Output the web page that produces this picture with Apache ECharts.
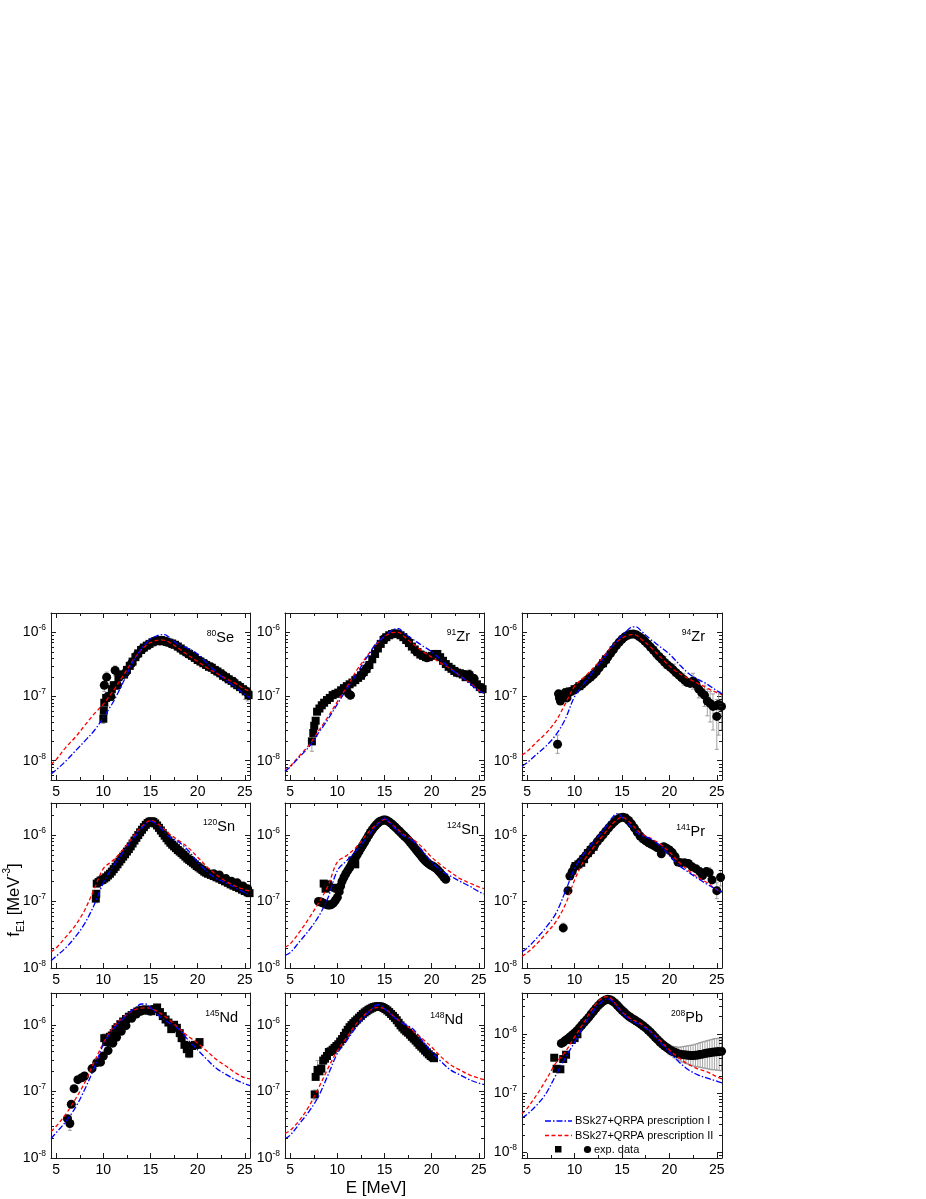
<!DOCTYPE html>
<html><head><meta charset="utf-8">
<script src="https://cdn.jsdelivr.net/npm/echarts@6/dist/echarts.min.js"></script>
<style>html,body{margin:0;padding:0;background:#fff}#c{width:926px;height:1199px}</style>
</head><body><div id="c"></div>
<script>
// ---------- DATA ----------
const CURVE_E = [4.45,5,6,7,8,9,10,11,12,13,13.5,14,14.5,15,15.5,16,16.5,17,18,19,20,21,22,23,24,25,25.55];

const SE80_I  = [6.2e-9,7.2e-9,9.8e-9,1.4e-8,2.0e-8,2.9e-8,4.7e-8,8.0e-8,1.55e-7,3.2e-7,4.3e-7,5.5e-7,6.7e-7,7.9e-7,8.6e-7,9.1e-7,9.2e-7,8.3e-7,6.4e-7,5.6e-7,4.6e-7,3.3e-7,2.4e-7,1.8e-7,1.4e-7,1.08e-7,9.7e-8];
const SE80_II = [8.7e-9,1.04e-8,1.6e-8,2.3e-8,3.5e-8,5.3e-8,7.6e-8,1.2e-7,2.0e-7,3.4e-7,4.3e-7,5.3e-7,6.2e-7,6.9e-7,7.4e-7,7.6e-7,7.5e-7,7.0e-7,5.6e-7,4.4e-7,3.5e-7,2.8e-7,2.3e-7,1.9e-7,1.6e-7,1.3e-7,1.2e-7];
const ZR91_I  = [6.8e-9,8.0e-9,1.15e-8,1.65e-8,2.7e-8,4.4e-8,7.6e-8,1.3e-7,2.2e-7,3.8e-7,4.9e-7,6.4e-7,7.5e-7,8.8e-7,1.0e-6,1.12e-6,1.14e-6,9.8e-7,7.8e-7,6.2e-7,5.0e-7,3.7e-7,2.7e-7,2.1e-7,1.6e-7,1.23e-7,1.13e-7];
const ZR91_II = [7.0e-9,8.2e-9,1.2e-8,1.75e-8,2.9e-8,4.8e-8,8.3e-8,1.4e-7,2.5e-7,4.0e-7,5.0e-7,6.3e-7,7.4e-7,8.6e-7,9.5e-7,1.0e-6,1.0e-6,8.8e-7,6.6e-7,5.1e-7,4.1e-7,3.3e-7,2.7e-7,2.1e-7,1.65e-7,1.25e-7,1.13e-7];
const ZR94_I  = [8.2e-9,9.3e-9,1.26e-8,1.7e-8,2.5e-8,4.4e-8,1.0e-7,1.6e-7,2.5e-7,3.8e-7,4.8e-7,6.2e-7,7.5e-7,8.9e-7,1.05e-6,1.2e-6,1.22e-6,1.06e-6,7.8e-7,6.0e-7,4.6e-7,3.2e-7,2.3e-7,1.85e-7,1.55e-7,1.23e-7,1.1e-7];
const ZR94_II = [1.23e-8,1.4e-8,1.95e-8,2.7e-8,4.1e-8,7.6e-8,1.45e-7,2.0e-7,2.8e-7,4.1e-7,5.1e-7,6.2e-7,7.2e-7,8.1e-7,8.8e-7,9.2e-7,9.0e-7,7.9e-7,5.9e-7,4.2e-7,3.0e-7,2.3e-7,1.9e-7,1.6e-7,1.35e-7,1.15e-7,1.07e-7];
const SN120_I = [1.28e-8,1.5e-8,2.0e-8,2.9e-8,4.6e-8,8.7e-8,1.9e-7,3.3e-7,5.2e-7,8.2e-7,1.0e-6,1.23e-6,1.45e-6,1.6e-6,1.5e-6,1.3e-6,1.1e-6,9.3e-7,7.8e-7,5.8e-7,3.9e-7,2.8e-7,2.2e-7,1.9e-7,1.6e-7,1.35e-7,1.26e-7];
const SN120_II= [1.75e-8,2.0e-8,2.9e-8,4.3e-8,7.3e-8,1.5e-7,3.1e-7,4.1e-7,5.8e-7,8.7e-7,1.08e-6,1.3e-6,1.5e-6,1.64e-6,1.55e-6,1.38e-6,1.2e-6,1.03e-6,8.2e-7,6.4e-7,4.6e-7,3.3e-7,2.5e-7,2.0e-7,1.7e-7,1.5e-7,1.42e-7];
const SN124_I = [1.55e-8,1.7e-8,2.5e-8,3.7e-8,5.9e-8,1.12e-7,2.9e-7,4.1e-7,5.8e-7,8.6e-7,1.05e-6,1.3e-6,1.55e-6,1.8e-6,1.55e-6,1.3e-6,1.1e-6,9.7e-7,8.1e-7,5.8e-7,3.9e-7,2.9e-7,2.4e-7,2.0e-7,1.7e-7,1.4e-7,1.3e-7];
const SN124_II= [2.05e-8,2.3e-8,3.5e-8,5.6e-8,9.4e-8,1.7e-7,3.9e-7,4.9e-7,6.5e-7,9.7e-7,1.17e-6,1.36e-6,1.55e-6,1.7e-6,1.55e-6,1.36e-6,1.17e-6,1.02e-6,8.6e-7,6.5e-7,4.6e-7,3.5e-7,2.75e-7,2.2e-7,1.9e-7,1.65e-7,1.55e-7];
const PR141_I = [1.75e-8,2.0e-8,2.8e-8,4.1e-8,6.5e-8,1.38e-7,3.1e-7,5.2e-7,7.8e-7,1.16e-6,1.45e-6,1.84e-6,2.08e-6,1.84e-6,1.55e-6,1.3e-6,1.1e-6,9.8e-7,8.7e-7,6.9e-7,4.9e-7,3.5e-7,2.75e-7,2.2e-7,1.8e-7,1.5e-7,1.38e-7];
const PR141_II= [1.5e-8,1.7e-8,2.3e-8,3.3e-8,4.9e-8,8.8e-8,2.1e-7,4.1e-7,6.5e-7,9.8e-7,1.2e-6,1.46e-6,1.7e-6,1.84e-6,1.7e-6,1.46e-6,1.22e-6,1.04e-6,8.9e-7,7.3e-7,5.5e-7,3.9e-7,2.9e-7,2.3e-7,1.9e-7,1.5e-7,1.42e-7];
const ND145_I = [1.95e-8,2.4e-8,3.5e-8,5.6e-8,1.05e-7,2.2e-7,5.0e-7,8.4e-7,1.19e-6,1.64e-6,1.85e-6,2.05e-6,2.05e-6,1.8e-6,1.55e-6,1.33e-6,1.18e-6,1.06e-6,8.6e-7,5.9e-7,4.2e-7,3.0e-7,2.2e-7,1.8e-7,1.5e-7,1.3e-7,1.22e-7];
const ND145_II= [2.5e-8,3.0e-8,4.5e-8,7.5e-8,1.33e-7,2.7e-7,5.3e-7,9.0e-7,1.26e-6,1.6e-6,1.72e-6,1.78e-6,1.8e-6,1.78e-6,1.65e-6,1.5e-6,1.35e-6,1.19e-6,8.9e-7,6.7e-7,5.3e-7,4.0e-7,3.0e-7,2.4e-7,1.9e-7,1.6e-7,1.55e-7];
const ND148_I = [1.95e-8,2.2e-8,3.3e-8,5.0e-8,8.4e-8,1.75e-7,3.7e-7,5.8e-7,9.2e-7,1.38e-6,1.65e-6,1.94e-6,2.0e-6,1.74e-6,1.5e-6,1.3e-6,1.15e-6,1.04e-6,8.7e-7,5.8e-7,3.9e-7,2.8e-7,2.1e-7,1.77e-7,1.5e-7,1.33e-7,1.27e-7];
const ND148_II= [2.35e-8,2.6e-8,3.7e-8,6.0e-8,1.12e-7,2.2e-7,4.1e-7,6.5e-7,1.03e-6,1.46e-6,1.65e-6,1.8e-6,1.82e-6,1.74e-6,1.55e-6,1.33e-6,1.17e-6,1.04e-6,8.2e-7,6.2e-7,4.6e-7,3.3e-7,2.5e-7,2.1e-7,1.77e-7,1.58e-7,1.5e-7];
const PB208_I = [3.8e-8,4.4e-8,6.3e-8,1.0e-7,2.0e-7,3.9e-7,7.4e-7,1.42e-6,2.5e-6,3.7e-6,4.0e-6,3.6e-6,2.9e-6,2.3e-6,1.95e-6,1.7e-6,1.55e-6,1.42e-6,1.1e-6,7.4e-7,5.0e-7,3.4e-7,2.5e-7,2.05e-7,1.8e-7,1.6e-7,1.5e-7];
const PB208_II= [4.5e-8,5.6e-8,9.4e-8,1.7e-7,3.2e-7,5.0e-7,9.0e-7,1.6e-6,2.9e-6,4.2e-6,4.35e-6,3.8e-6,3.0e-6,2.4e-6,2.05e-6,1.8e-6,1.65e-6,1.5e-6,1.12e-6,7.9e-7,5.4e-7,4.0e-7,3.1e-7,2.6e-7,2.3e-7,1.9e-7,1.75e-7];

// experimental data: [E, f]  (SQ = squares, CI = circles), errors: [E, low, high]
const SE80_SQ = [[10.0,4.5e-8],[10.05,6.0e-8],[10.1,8.0e-8],[10.3,9.5e-8],[10.6,1.0e-7],[10.9,1.3e-7],[11.1,1.5e-7],[11.4,1.5e-7],[11.6,2.0e-7],[11.9,2.2e-7],[12.2,2.2e-7],[12.5,2.6e-7],[12.8,3.0e-7],[13.1,3.5e-7],[13.4,4.1e-7],[13.7,4.7e-7],[14.0,5.3e-7],[14.3,5.8e-7],[14.6,6.2e-7],[14.9,6.6e-7],[15.2,7.0e-7],[15.5,7.3e-7],[15.8,7.5e-7],[16.1,7.6e-7],[16.4,7.4e-7],[16.7,7.1e-7],[17.0,6.9e-7],[17.3,6.7e-7],[17.6,6.4e-7],[17.9,6.0e-7],[18.2,5.6e-7],[18.5,5.2e-7],[18.8,4.9e-7],[19.1,4.6e-7],[19.4,4.3e-7],[19.7,4.0e-7],[20.0,3.7e-7],[20.3,3.5e-7],[20.6,3.3e-7],[20.9,3.1e-7],[21.2,2.9e-7],[21.5,2.8e-7],[21.8,2.6e-7],[22.1,2.45e-7],[22.4,2.3e-7],[22.7,2.1e-7],[23.0,2.0e-7],[23.3,1.85e-7],[23.6,1.75e-7],[23.9,1.6e-7],[24.2,1.5e-7],[24.5,1.4e-7],[24.8,1.3e-7],[25.1,1.2e-7],[25.4,1.05e-7]];
const SE80_CI = [[10.1,1.5e-7],[10.35,2.0e-7],[10.5,1.0e-7],[10.8,1.0e-7],[11.25,2.55e-7],[11.5,1.5e-7],[11.8,2.1e-7],[12.4,2.4e-7],[13.0,3.3e-7],[13.6,4.5e-7],[14.2,5.6e-7],[14.8,6.4e-7],[15.4,7.1e-7],[16.0,7.3e-7],[16.6,7.2e-7],[17.2,6.6e-7],[17.8,6.1e-7],[18.4,5.3e-7],[19.0,4.6e-7],[19.6,4.1e-7],[20.2,3.6e-7],[20.8,3.2e-7],[21.4,2.9e-7],[22.0,2.5e-7],[22.6,2.2e-7],[23.2,1.9e-7],[23.8,1.7e-7],[24.4,1.45e-7],[25.0,1.25e-7],[25.3,1.15e-7]];
const SE80_ERR = [[10.0,3.8e-8,5.3e-8],[10.1,1.2e-7,1.9e-7],[10.35,1.6e-7,2.4e-7],[11.25,2.1e-7,3.0e-7],[20.5,3.0e-7,3.8e-7],[22.0,2.2e-7,2.9e-7],[23.0,1.7e-7,2.3e-7],[24.0,1.35e-7,1.8e-7],[25.0,0.9e-7,1.4e-7],[25.3,0.85e-7,1.35e-7]];

const ZR91_SQ = [[7.3,2.0e-8],[7.45,2.7e-8],[7.55,3.5e-8],[7.7,4.2e-8],[7.85,5.8e-8],[8.1,6.5e-8],[8.35,7.3e-8],[8.6,8.0e-8],[8.9,8.8e-8],[9.2,9.5e-8],[9.5,1.05e-7],[9.8,1.1e-7],[10.1,1.15e-7],[10.4,1.25e-7],[10.7,1.35e-7],[11.0,1.45e-7],[11.3,1.55e-7],[11.6,1.65e-7],[11.9,1.8e-7],[12.2,1.95e-7],[12.5,2.1e-7],[12.8,2.4e-7],[13.1,2.7e-7],[13.4,3.1e-7],[13.7,3.8e-7],[14.0,4.6e-7],[14.3,5.6e-7],[14.6,6.6e-7],[14.9,7.6e-7],[15.2,8.4e-7],[15.5,9.0e-7],[15.8,9.4e-7],[16.1,9.6e-7],[16.4,9.5e-7],[16.7,9.0e-7],[17.0,8.4e-7],[17.3,7.6e-7],[17.6,6.8e-7],[17.9,6.0e-7],[18.2,5.4e-7],[18.5,4.9e-7],[18.8,4.5e-7],[19.1,4.3e-7],[19.4,4.1e-7],[19.7,4.1e-7],[20.0,4.3e-7],[20.3,4.6e-7],[20.6,4.6e-7],[20.9,4.1e-7],[21.2,3.6e-7],[21.5,3.2e-7],[21.8,2.9e-7],[22.1,2.7e-7],[22.4,2.5e-7],[22.7,2.35e-7],[23.0,2.3e-7],[23.3,2.2e-7],[23.6,2.0e-7],[23.9,2.1e-7],[24.2,1.9e-7],[24.5,1.7e-7],[24.8,1.55e-7],[25.1,1.4e-7],[25.4,1.3e-7]];
const ZR91_CI = [[11.2,1.1e-7],[11.4,1.05e-7],[12.6,2.2e-7],[13.0,2.6e-7],[13.3,3.0e-7],[15.0,8.0e-7],[16.0,9.5e-7],[17.5,7.2e-7],[18.4,5.0e-7],[19.0,4.4e-7],[19.5,4.0e-7],[22.6,2.4e-7],[23.5,2.2e-7],[24.0,2.2e-7],[24.5,1.9e-7],[25.3,1.35e-7]];
const ZR91_ERR = [[7.3,1.4e-8,2.7e-8],[11.3,0.9e-7,1.3e-7],[24.0,1.8e-7,2.6e-7],[24.5,1.5e-7,2.2e-7]];

const ZR94_SQ = [[9.5,1.2e-7],[10.0,1.3e-7],[10.5,1.45e-7],[13.0,3.3e-7],[13.3,3.8e-7]];
const ZR94_CI = [[8.2,1.8e-8],[8.3,1.1e-7],[8.4,9.5e-8],[8.5,8.5e-8],[8.6,1.05e-7],[8.8,1.0e-7],[9.0,1.15e-7],[9.2,9.5e-8],[9.4,1.15e-7],[9.6,1.2e-7],[9.9,1.25e-7],[10.2,1.35e-7],[10.5,1.45e-7],[10.8,1.55e-7],[11.1,1.7e-7],[11.4,1.85e-7],[11.7,2.0e-7],[12.0,2.2e-7],[12.3,2.45e-7],[12.6,2.8e-7],[12.9,3.2e-7],[13.2,3.6e-7],[13.5,4.1e-7],[13.8,4.7e-7],[14.1,5.4e-7],[14.4,6.2e-7],[14.7,7.0e-7],[15.0,7.8e-7],[15.3,8.5e-7],[15.6,9.0e-7],[15.9,9.3e-7],[16.2,9.4e-7],[16.5,9.2e-7],[16.8,8.6e-7],[17.1,8.0e-7],[17.4,7.3e-7],[17.7,6.6e-7],[18.0,5.9e-7],[18.3,5.3e-7],[18.6,4.7e-7],[18.9,4.2e-7],[19.2,3.8e-7],[19.5,3.4e-7],[19.8,3.1e-7],[20.1,2.85e-7],[20.4,2.6e-7],[20.7,2.35e-7],[21.0,2.15e-7],[21.3,1.95e-7],[21.6,1.8e-7],[21.9,1.65e-7],[22.2,1.6e-7],[22.5,1.75e-7],[22.8,1.55e-7],[23.1,1.3e-7],[23.4,1.15e-7],[23.7,1.05e-7],[24.0,8.5e-8],[24.3,7.8e-8],[24.6,7.0e-8],[24.9,7.2e-8],[25.0,4.9e-8],[25.2,7.5e-8],[25.5,7.0e-8]];
const ZR94_ERR = [[8.2,1.3e-8,2.5e-8],[17.5,6.0e-7,8.5e-7],[18.5,4.0e-7,6.0e-7],[19.5,2.8e-7,4.2e-7],[20.5,2.1e-7,3.2e-7],[21.5,1.5e-7,2.3e-7],[22.5,1.3e-7,2.3e-7],[23.1,9.5e-8,1.8e-7],[23.7,7e-8,1.5e-7],[24.0,5e-8,1.3e-7],[24.3,4e-8,1.2e-7],[24.6,3e-8,1.1e-7],[25.0,1.5e-8,9e-8],[25.2,2.5e-8,1.2e-7],[25.5,3e-8,1.1e-7]];

const SN120_SQ = [[9.2,1.1e-7],[9.25,1.3e-7],[9.3,1.85e-7],[9.5,1.95e-7],[9.7,2.05e-7],[9.9,2.1e-7],[10.1,2.2e-7],[10.3,2.3e-7],[10.5,2.45e-7],[10.7,2.6e-7],[10.9,2.8e-7],[11.1,3.05e-7],[11.3,3.3e-7],[11.5,3.6e-7],[11.7,3.95e-7],[11.9,4.3e-7],[12.1,4.7e-7],[12.3,5.1e-7],[12.5,5.6e-7],[12.7,6.1e-7],[12.9,6.7e-7],[13.1,7.4e-7],[13.3,8.2e-7],[13.5,9.0e-7],[13.7,9.9e-7],[13.9,1.09e-6],[14.1,1.19e-6],[14.3,1.3e-6],[14.5,1.41e-6],[14.7,1.5e-6],[14.9,1.57e-6],[15.1,1.6e-6],[15.3,1.56e-6],[15.5,1.48e-6],[15.7,1.38e-6],[15.9,1.27e-6],[16.1,1.16e-6],[16.3,1.06e-6],[16.5,9.7e-7],[16.7,8.9e-7],[16.9,8.2e-7],[17.1,7.6e-7],[17.3,7.1e-7],[17.5,6.7e-7],[17.7,6.3e-7],[17.9,5.9e-7],[18.1,5.6e-7],[18.3,5.3e-7],[18.5,5.0e-7],[18.7,4.7e-7],[18.9,4.4e-7],[19.1,4.2e-7],[19.3,4.0e-7],[19.5,3.8e-7],[19.7,3.6e-7],[19.9,3.4e-7],[20.1,3.25e-7],[20.3,3.1e-7],[20.5,2.95e-7],[20.7,2.8e-7],[20.9,2.7e-7],[21.1,2.6e-7],[21.4,2.5e-7],[21.7,2.4e-7],[22.0,2.3e-7],[22.3,2.2e-7],[22.6,2.1e-7],[22.9,2.0e-7],[23.2,1.9e-7],[23.5,1.8e-7],[23.8,1.72e-7],[24.1,1.65e-7],[24.4,1.58e-7],[24.7,1.5e-7],[25.0,1.43e-7],[25.3,1.37e-7],[25.5,1.33e-7]];
const SN120_CI = [[21.7,2.6e-7],[22.3,2.5e-7],[23.0,2.2e-7],[23.6,2.0e-7],[24.2,1.9e-7],[24.8,1.7e-7],[25.3,1.55e-7]];
const SN120_ERR = [[9.2,0.95e-7,1.25e-7]];

const SN124_SQ = [[8.55,1.85e-7],[8.75,1.55e-7],[9.0,1.8e-7],[9.1,1.65e-7],[9.8,1.6e-7],[10.0,1.55e-7],[11.6,4.1e-7],[11.9,3.6e-7]];
const SN124_CI = [[8.0,1.0e-7],[8.2,9.8e-8],[8.4,9.6e-8],[8.6,9.3e-8],[8.8,9.0e-8],[9.0,8.8e-8],[9.2,8.8e-8],[9.4,9.0e-8],[9.6,9.5e-8],[9.8,1.04e-7],[10.0,1.15e-7],[10.2,1.4e-7],[10.35,1.7e-7],[10.5,2.0e-7],[10.7,2.3e-7],[10.9,2.6e-7],[11.1,2.9e-7],[11.3,3.2e-7],[11.5,3.6e-7],[11.7,4.0e-7],[11.9,4.5e-7],[12.1,5.0e-7],[12.3,5.6e-7],[12.5,6.3e-7],[12.7,7.0e-7],[12.9,7.8e-7],[13.1,8.7e-7],[13.3,9.7e-7],[13.5,1.08e-6],[13.7,1.19e-6],[13.9,1.3e-6],[14.1,1.4e-6],[14.3,1.5e-6],[14.5,1.58e-6],[14.7,1.63e-6],[14.9,1.66e-6],[15.1,1.66e-6],[15.3,1.62e-6],[15.5,1.56e-6],[15.7,1.48e-6],[15.9,1.4e-6],[16.1,1.32e-6],[16.3,1.24e-6],[16.5,1.16e-6],[16.7,1.09e-6],[16.9,1.02e-6],[17.1,9.6e-7],[17.3,9.0e-7],[17.5,8.4e-7],[17.7,7.8e-7],[17.9,7.2e-7],[18.1,6.6e-7],[18.3,6.1e-7],[18.5,5.6e-7],[18.7,5.2e-7],[18.9,4.8e-7],[19.1,4.4e-7],[19.3,4.1e-7],[19.5,3.85e-7],[19.7,3.65e-7],[19.9,3.5e-7],[20.1,3.4e-7],[20.3,3.25e-7],[20.5,3.1e-7],[20.7,2.9e-7],[20.9,2.7e-7],[21.1,2.5e-7],[21.3,2.3e-7],[21.5,2.15e-7]];
const SN124_ERR = [];

const PR141_SQ = [[10.1,3.4e-7],[10.4,3.6e-7],[10.7,3.8e-7],[11.0,4.3e-7],[11.4,5.3e-7],[11.7,5.9e-7],[12.0,6.6e-7]];
const PR141_CI = [[8.8,4.0e-8],[9.3,1.45e-7],[9.5,2.4e-7],[9.75,2.8e-7],[10.0,3.3e-7],[10.3,3.5e-7],[10.6,3.9e-7],[10.9,4.4e-7],[11.2,4.9e-7],[11.5,5.5e-7],[11.8,6.2e-7],[12.1,6.9e-7],[12.4,7.9e-7],[12.7,8.9e-7],[13.0,1.0e-6],[13.3,1.13e-6],[13.6,1.27e-6],[13.9,1.42e-6],[14.2,1.56e-6],[14.5,1.7e-6],[14.8,1.8e-6],[15.1,1.84e-6],[15.4,1.78e-6],[15.7,1.64e-6],[16.0,1.46e-6],[16.3,1.27e-6],[16.6,1.1e-6],[16.9,9.6e-7],[17.2,8.7e-7],[17.5,8.1e-7],[17.8,7.6e-7],[18.1,7.2e-7],[18.4,6.8e-7],[18.7,6.4e-7],[19.0,6.2e-7],[19.15,5.2e-7],[19.4,6.6e-7],[19.7,6.3e-7],[20.0,5.9e-7],[20.3,5.4e-7],[20.6,4.7e-7],[20.9,3.9e-7],[21.2,3.8e-7],[21.6,3.8e-7],[22.0,3.7e-7],[22.4,3.3e-7],[22.8,3.1e-7],[23.2,2.8e-7],[23.5,2.45e-7],[23.9,2.8e-7],[24.2,2.7e-7],[24.5,2.1e-7],[25.0,1.45e-7],[25.4,2.3e-7]];
const PR141_ERR = [[8.8,3.5e-8,4.7e-8],[23.2,2.4e-7,3.2e-7],[24.2,2.2e-7,3.2e-7],[25.0,1.1e-7,1.9e-7],[25.4,1.7e-7,2.9e-7]];

const ND145_SQ = [[10.1,6.3e-7],[10.3,5.5e-7],[10.5,6.0e-7],[10.7,6.6e-7],[10.9,6.9e-7],[11.1,7.5e-7],[11.3,8.6e-7],[11.5,9.2e-7],[11.8,1.02e-6],[12.1,1.12e-6],[12.4,1.22e-6],[12.7,1.32e-6],[13.0,1.4e-6],[13.3,1.5e-6],[13.6,1.58e-6],[13.9,1.65e-6],[14.2,1.68e-6],[14.5,1.7e-6],[14.8,1.66e-6],[15.1,1.6e-6],[15.4,1.72e-6],[15.7,1.82e-6],[16.0,1.55e-6],[16.3,1.35e-6],[16.6,1.2e-6],[16.9,1.08e-6],[17.2,8.6e-7],[17.5,1.0e-6],[17.8,9.0e-7],[18.1,7.5e-7],[18.3,6.3e-7],[18.6,5.0e-7],[18.85,4.3e-7],[19.1,3.7e-7],[19.4,4.8e-7],[19.7,5.0e-7],[20.0,5.0e-7],[20.2,5.5e-7]];
const ND145_CI = [[6.2,3.9e-8],[6.45,3.3e-8],[6.6,6.4e-8],[6.9,1.1e-7],[7.3,1.5e-7],[7.7,1.6e-7],[8.0,1.7e-7],[8.8,2.2e-7],[9.3,2.7e-7],[9.7,2.75e-7],[10.0,3.4e-7],[10.5,4.1e-7],[11.0,5.3e-7],[11.4,6.5e-7],[11.9,8.0e-7],[12.4,9.7e-7],[13.0,1.25e-6],[13.5,1.45e-6],[14.0,1.6e-6],[14.5,1.65e-6],[15.0,1.6e-6]];
const ND145_ERR = [[6.45,2.6e-8,4.2e-8],[10.1,5.3e-7,7.3e-7],[19.1,3.2e-7,4.3e-7],[20.0,4.5e-7,5.8e-7]];

const ND148_SQ = [[7.6,9.0e-8],[7.7,1.65e-7],[7.9,2.1e-7],[8.1,2.0e-7],[8.3,2.2e-7],[8.5,2.9e-7],[8.7,3.1e-7],[8.9,3.4e-7],[9.1,3.9e-7],[9.3,4.0e-7],[9.5,4.2e-7],[9.7,4.5e-7],[9.9,4.8e-7],[10.1,5.1e-7],[10.3,5.6e-7],[10.5,6.1e-7],[10.7,6.8e-7],[10.9,7.6e-7],[11.1,8.4e-7],[11.3,9.2e-7],[11.5,9.9e-7],[11.7,1.06e-6],[11.9,1.13e-6],[12.1,1.2e-6],[12.3,1.28e-6],[12.5,1.36e-6],[12.7,1.45e-6],[12.9,1.53e-6],[13.1,1.6e-6],[13.3,1.68e-6],[13.5,1.74e-6],[13.7,1.8e-6],[13.9,1.85e-6],[14.1,1.88e-6],[14.3,1.9e-6],[14.5,1.89e-6],[14.7,1.85e-6],[14.9,1.79e-6],[15.1,1.72e-6],[15.3,1.64e-6],[15.5,1.55e-6],[15.7,1.45e-6],[15.9,1.36e-6],[16.1,1.27e-6],[16.3,1.17e-6],[16.5,1.07e-6],[16.7,9.8e-7],[16.9,9.1e-7],[17.1,8.5e-7],[17.3,8.0e-7],[17.5,7.6e-7],[17.7,7.1e-7],[17.9,6.6e-7],[18.1,6.2e-7],[18.3,5.8e-7],[18.5,5.4e-7],[18.7,5.0e-7],[18.9,4.7e-7],[19.1,4.4e-7],[19.3,4.1e-7],[19.5,3.85e-7],[19.7,3.6e-7],[19.9,3.4e-7],[20.1,3.25e-7],[20.25,3.15e-7]];
const ND148_CI = [];
const ND148_ERR = [[7.6,7.5e-8,1.05e-7],[7.9,1.6e-7,2.9e-7],[8.3,1.8e-7,2.7e-7],[9.3,3.5e-7,4.8e-7]];

const PB208_SQ = [[7.85,4.0e-7],[8.1,2.6e-7],[8.5,2.55e-7],[8.8,3.8e-7],[9.1,4.5e-7],[9.7,8.0e-7],[10.0,8.6e-7],[10.3,1.0e-6]];
const PB208_CI = [[8.6,7.0e-7],[8.8,7.3e-7],[9.0,7.8e-7],[9.25,8.3e-7],[9.5,9.0e-7],[9.75,9.7e-7],[10.0,1.05e-6],[10.25,1.15e-6],[10.5,1.28e-6],[10.75,1.42e-6],[11.0,1.58e-6],[11.25,1.75e-6],[11.5,1.95e-6],[11.75,2.2e-6],[12.0,2.45e-6],[12.25,2.75e-6],[12.5,3.05e-6],[12.75,3.35e-6],[13.0,3.6e-6],[13.25,3.8e-6],[13.5,3.9e-6],[13.75,3.85e-6],[14.0,3.65e-6],[14.25,3.4e-6],[14.5,3.1e-6],[14.75,2.8e-6],[15.0,2.55e-6],[15.25,2.35e-6],[15.5,2.15e-6],[15.75,2.0e-6],[16.0,1.88e-6],[16.25,1.78e-6],[16.5,1.68e-6],[16.75,1.58e-6],[17.0,1.48e-6],[17.25,1.38e-6],[17.5,1.28e-6],[17.75,1.18e-6],[18.0,1.08e-6],[18.25,9.8e-7],[18.5,8.9e-7],[18.75,8.1e-7],[19.0,7.4e-7],[19.25,6.8e-7],[19.5,6.3e-7],[19.75,5.9e-7],[20.0,5.5e-7],[20.25,5.2e-7],[20.5,5.0e-7],[20.75,4.8e-7],[21.0,4.65e-7],[21.25,4.55e-7],[21.5,4.5e-7],[21.75,4.45e-7],[22.0,4.4e-7],[22.25,4.35e-7],[22.5,4.35e-7],[22.75,4.4e-7],[23.0,4.45e-7],[23.25,4.55e-7],[23.5,4.6e-7],[23.75,4.7e-7],[24.0,4.8e-7],[24.25,4.85e-7],[24.5,4.95e-7],[24.75,5.0e-7],[25.0,5.05e-7],[25.25,5.1e-7],[25.5,5.15e-7]];
const PB208_ERR = [[20.0,4.6e-7,6.5e-7],[20.25,4.3e-7,6.3e-7],[20.5,4.0e-7,6.2e-7],[20.75,3.8e-7,6.1e-7],[21.0,3.6e-7,6.0e-7],[21.25,3.4e-7,6.1e-7],[21.5,3.3e-7,6.2e-7],[21.75,3.2e-7,6.3e-7],[22.0,3.1e-7,6.4e-7],[22.25,3.0e-7,6.5e-7],[22.5,2.9e-7,6.6e-7],[22.75,2.85e-7,6.8e-7],[23.0,2.8e-7,7.0e-7],[23.25,2.75e-7,7.2e-7],[23.5,2.7e-7,7.4e-7],[23.75,2.65e-7,7.6e-7],[24.0,2.6e-7,7.8e-7],[24.25,2.55e-7,8.0e-7],[24.5,2.5e-7,8.2e-7],[24.75,2.5e-7,8.4e-7],[25.0,2.45e-7,8.5e-7],[25.25,2.45e-7,8.6e-7],[25.5,2.4e-7,8.7e-7]];

const NAME_I = 'BSk27+QRPA prescription I';
const NAME_II = 'BSk27+QRPA prescription II';
const NAME_EXP = 'exp. data';
const LOG_MINOR_MULTS = [2,3,4,5,6,7,8,9];
const LOG_DECADES = [-9,-8,-7,-6,-5];
const E_MIN = 4.45, E_MAX = 25.55;

// ---------- PANELS ----------
const PANELS = [
  {mass:'80', el:'Se', I:SE80_I, II:SE80_II, sq:SE80_SQ, ci:SE80_CI, err:SE80_ERR, ymin:5e-9, ymax:2e-6},
  {mass:'91', el:'Zr', I:ZR91_I, II:ZR91_II, sq:ZR91_SQ, ci:ZR91_CI, err:ZR91_ERR, ymin:5e-9, ymax:2e-6},
  {mass:'94', el:'Zr', I:ZR94_I, II:ZR94_II, sq:ZR94_SQ, ci:ZR94_CI, err:ZR94_ERR, ymin:5e-9, ymax:2e-6},
  {mass:'120', el:'Sn', I:SN120_I, II:SN120_II, sq:SN120_SQ, ci:SN120_CI, err:SN120_ERR, ymin:1e-8, ymax:3e-6},
  {mass:'124', el:'Sn', I:SN124_I, II:SN124_II, sq:SN124_SQ, ci:SN124_CI, err:SN124_ERR, ymin:1e-8, ymax:3e-6},
  {mass:'141', el:'Pr', I:PR141_I, II:PR141_II, sq:PR141_SQ, ci:PR141_CI, err:PR141_ERR, ymin:1e-8, ymax:3e-6},
  {mass:'145', el:'Nd', I:ND145_I, II:ND145_II, sq:ND145_SQ, ci:ND145_CI, err:ND145_ERR, ymin:1e-8, ymax:3e-6},
  {mass:'148', el:'Nd', I:ND148_I, II:ND148_II, sq:ND148_SQ, ci:ND148_CI, err:ND148_ERR, ymin:1e-8, ymax:3e-6},
  {mass:'208', el:'Pb', I:PB208_I, II:PB208_II, sq:PB208_SQ, ci:PB208_CI, err:PB208_ERR, ymin:8e-9, ymax:5e-6}
];

// ---------- LAYOUT / STYLE ----------
const COL_LEFT = [51, 285, 522], COL_W = [199, 199, 200];
const ROW_TOP = [613, 803, 993], ROW_H = [167, 165, 165];
const LABEL_POS = [[234,638],[470,637],[705,637],[235,827],[479,830],[705,832],[238,1018],[463,1020],[703,1018]];
const FONT = 'Liberation Sans, Arial, Helvetica, sans-serif';
const AX = '#1a1a1a';
const BLUE = '#0000ff', RED = '#ff0000';
const DASH_I = [6,2,1.5,2], DASH_II = [4,2.5];

const chart = echarts.init(document.getElementById('c'), null, {renderer:'canvas'});
const grids = [], xAxes = [], yAxes = [], series = [], graphics = [];

function isPow10(v){ const e = Math.log10(v); return Math.abs(e - Math.round(e)) < 1e-6; }

PANELS.forEach((p, i) => {
  const r = Math.floor(i / 3), c = i % 3;
  grids.push({left: COL_LEFT[c], top: ROW_TOP[r], width: COL_W[c], height: ROW_H[r], outerBoundsMode:'none', containLabel:false});
  const xBase = {type:'value', gridIndex:i, min:E_MIN, max:E_MAX, splitNumber:5,
    splitLine:{show:false},
    axisLine:{show:true, onZero:false, lineStyle:{color:AX, width:1}},
    axisTick:{show:true, inside:true, length:5, lineStyle:{color:AX, width:1}},
    minorTick:{show:true, splitNumber:2, length:3, lineStyle:{color:AX, width:1}}};
  xAxes.push(Object.assign({}, xBase, {position:'bottom',
    axisLabel:{show:true, fontSize:14, color:'#000', fontFamily:FONT, margin:5,
      formatter: v => (Math.abs(v % 5) < 1e-9 ? String(Math.round(v)) : '')}}));
  xAxes.push(Object.assign({}, xBase, {position:'top', axisLabel:{show:false}}));
  const yBase = {type:'log', logBase:10, gridIndex:i, min:p.ymin, max:p.ymax,
    splitLine:{show:false}, minorTick:{show:false},
    axisLine:{show:true, onZero:false, lineStyle:{color:AX, width:1}},
    axisTick:{show:true, inside:true, length:5, lineStyle:{color:AX, width:1}}};
  yAxes.push(Object.assign({}, yBase, {position:'left',
    axisLabel:{show:true, margin:5, color:'#000', fontFamily:FONT,
      formatter: v => isPow10(v) ? '{b|10}{s|' + Math.round(Math.log10(v)) + '}' : '',
      rich:{b:{fontSize:14, lineHeight:18, color:'#000', fontFamily:FONT},
            s:{fontSize:8.5, lineHeight:9, verticalAlign:'top', color:'#000', fontFamily:FONT}}}}));
  yAxes.push(Object.assign({}, yBase, {position:'right', axisLabel:{show:false}}));

  const xi = 2*i, yi = 2*i;
  series.push({type:'custom', xAxisIndex:xi, yAxisIndex:yi, data:p.err, clip:true, silent:true, z:1,
    encode:{x:0, y:[1,2]},
    renderItem:(params, api) => {
      const x = api.value(0), lo = api.value(1), hi = api.value(2);
      const a = api.coord([x, lo]), b = api.coord([x, hi]);
      const st = {stroke:'#8a8a8a', lineWidth:0.8};
      return {type:'group', children:[
        {type:'line', shape:{x1:a[0], y1:a[1], x2:b[0], y2:b[1]}, style:st},
        {type:'line', shape:{x1:a[0]-2, y1:a[1], x2:a[0]+2, y2:a[1]}, style:st},
        {type:'line', shape:{x1:b[0]-2, y1:b[1], x2:b[0]+2, y2:b[1]}, style:st}]};
    }});
  series.push({type:'scatter', name:NAME_EXP, xAxisIndex:xi, yAxisIndex:yi, data:p.sq, symbol:'rect', symbolSize:8,
    itemStyle:{color:'#000', opacity:1}, clip:true, silent:true, z:2});
  series.push({type:'scatter', name:NAME_EXP, xAxisIndex:xi, yAxisIndex:yi, data:p.ci, symbol:'circle', symbolSize:9,
    itemStyle:{color:'#000', opacity:1}, clip:true, silent:true, z:2});
  series.push({type:'line', name:NAME_II, xAxisIndex:xi, yAxisIndex:yi, data:CURVE_E.map((e,k)=>[e, p.II[k]]),
    symbol:'none', smooth:0.35, lineStyle:{color:RED, width:1.3, type:DASH_II}, itemStyle:{color:RED}, z:3, silent:true});
  series.push({type:'line', name:NAME_I, xAxisIndex:xi, yAxisIndex:yi, data:CURVE_E.map((e,k)=>[e, p.I[k]]),
    symbol:'none', smooth:0.35, lineStyle:{color:BLUE, width:1.3, type:DASH_I}, itemStyle:{color:BLUE}, z:3, silent:true});
  const minors = [];
  LOG_DECADES.forEach(d => LOG_MINOR_MULTS.forEach(m => { const v = m * Math.pow(10, d); if (v > p.ymin*1.0001 && v < p.ymax*0.9999) minors.push([E_MIN, v]); }));
  series.push({type:'custom', xAxisIndex:xi, yAxisIndex:yi, data:minors, silent:true, z:4, encode:{x:0, y:1},
    renderItem:(params, api) => {
      const v = api.value(1);
      const L = api.coord([E_MIN, v]), R = api.coord([E_MAX, v]);
      const y = Math.round(L[1]) + 0.5;
      const st = {stroke:AX, lineWidth:1};
      return {type:'group', children:[
        {type:'line', shape:{x1:L[0], y1:y, x2:L[0]+3, y2:y}, style:st},
        {type:'line', shape:{x1:R[0]-3, y1:y, x2:R[0], y2:y}, style:st}]};
    }});
  graphics.push({type:'text', x:LABEL_POS[i][0], y:LABEL_POS[i][1], silent:true,
    style:{text:'{m|' + p.mass + '}{e|' + p.el + '}', align:'right', verticalAlign:'middle', fill:'#000', fontFamily:FONT,
      rich:{m:{fontSize:8.5, lineHeight:8, verticalAlign:'top', fill:'#000', fontFamily:FONT},
            e:{fontSize:14.5, lineHeight:18, fill:'#000', fontFamily:FONT}}}});
});

// axis titles
graphics.push({type:'text', x:14, y:900, rotation:Math.PI/2, silent:true,
  style:{text:'f{sub|E1} [MeV{sup|-3}]', align:'center', verticalAlign:'middle', fontSize:16.5, fill:'#000', fontFamily:FONT,
    rich:{sub:{fontSize:10, lineHeight:24, verticalAlign:'bottom', fill:'#000', fontFamily:FONT},
          sup:{fontSize:10, lineHeight:10, verticalAlign:'top', fill:'#000', fontFamily:FONT}}}});
graphics.push({type:'text', x:376, y:1188, silent:true,
  style:{text:'E [MeV]', align:'center', verticalAlign:'middle', fontSize:17, fill:'#000', fontFamily:FONT}});

// legend (drawn with the same styles as the series)
const LEG = [{name:NAME_I, color:BLUE, dash:DASH_I, y:1121}, {name:NAME_II, color:RED, dash:DASH_II, y:1135.5}];
LEG.forEach(l => {
  graphics.push({type:'line', silent:true, shape:{x1:545, y1:l.y, x2:572, y2:l.y},
    style:{stroke:l.color, lineWidth:1.3, lineDash:l.dash}});
  graphics.push({type:'text', x:575, y:l.y, silent:true,
    style:{text:l.name, fontSize:11, fill:'#000', verticalAlign:'middle', align:'left', fontFamily:FONT}});
});
graphics.push({type:'rect', silent:true, shape:{x:555, y:1146, width:6.5, height:6.5}, style:{fill:'#000'}});
graphics.push({type:'circle', silent:true, shape:{cx:587.5, cy:1149.5, r:3.6}, style:{fill:'#000'}});
graphics.push({type:'text', x:594, y:1149.5, silent:true,
  style:{text:NAME_EXP, fontSize:11, fill:'#000', verticalAlign:'middle', align:'left', fontFamily:FONT}});

chart.setOption({
  animation:false,
  backgroundColor:'#fff',
  textStyle:{fontFamily:FONT},
  grid:grids, xAxis:xAxes, yAxis:yAxes, series:series,
  graphic:{elements:graphics}
});
</script>
</body></html>
